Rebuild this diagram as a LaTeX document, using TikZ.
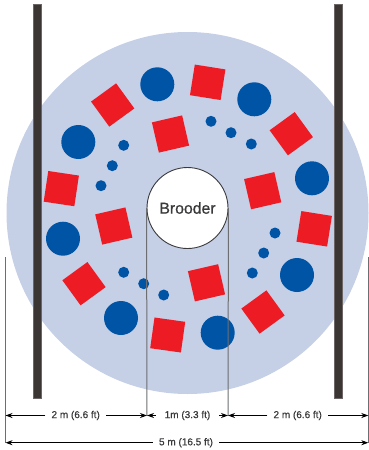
\documentclass[tikz,border=0pt]{standalone}
\usepackage{xcolor}
\usepackage{fontspec}
\setmainfont{Liberation Sans}
\newfontfamily\medfont[FakeBold=0.7]{Liberation Sans}
\usetikzlibrary{positioning, arrows.meta, calc}
\definecolor{yard-blue}{HTML}{C5CFE6}
\definecolor{drinker-blue}{HTML}{0054A6}
\definecolor{feeder-red}{HTML}{ED1C24}
\definecolor{post-dark}{HTML}{3B3533}
\definecolor{line-gray}{HTML}{6D6E71}
\definecolor{text-dark}{HTML}{3A3A3C}

\begin{document}
\begin{tikzpicture}[
    x=1pt, y=-1pt,
    yard/.style={circle, inner sep=0pt, minimum size=362pt, fill=yard-blue},
    feeder/.style={rectangle, inner sep=0pt, minimum size=31pt, fill=feeder-red},
    drinker/.style={circle, inner sep=0pt, minimum size=34pt, fill=drinker-blue},
    nipple/.style={circle, inner sep=0pt, minimum size=11pt, fill=drinker-blue},
    brooder/.style={circle, inner sep=0pt, minimum size=81pt, fill=white, draw=text-dark, line width=0.9pt,
                    font=\medfont\fontsize{15.8}{18}\selectfont, text=text-dark},
    post/.style={fill=post-dark, draw=post-dark!75!white, line width=0.5pt},
    ext/.style={line-gray, line width=1pt},
    dim/.style={-{Stealth[length=7pt, width=5pt]}, black, line width=0.8pt},
    lbl/.style={inner sep=6pt, font=\medfont\fontsize{10}{12}\selectfont, text=text-dark},
]
    \useasboundingbox (0, 0) rectangle (369, 450);

    % Yard
    \node[yard] (yard) at (187.5, 213) {};

    % Posts
    \draw[post] (33.3, 4) rectangle (41, 398);
    \draw[post] (334.3, 4) rectangle (342, 398);

    % Feeders
    \foreach \name/\x/\y/\ang in {
        a/112.7/105/36, b/170.5/134/13, c/61.3/188.6/-8.5, d/113.8/226/13,
        e/84/283.7/36, f/167.7/335/-8, g/207.7/82.3/-9, h/291.3/133.7/36,
        i/262.7/190.7/13, j/314.2/228.8/-9, k/263/312/36, l/206.5/282.8/13}
        \node[feeder, rotate=\ang] (feeder-\name) at (\x, \y) {};

    % Drinkers
    \foreach \name/\x/\y in {
        a/157.3/84.3, b/78.3/142, c/63/238.7, d/121/318,
        e/254.3/99.3, f/312/178.3, g/297/275, h/217.7/332.7}
        \node[drinker] (drinker-\name) at (\x, \y) {};

    % Nipples
    \foreach \name/\x/\y in {
        a/123.7/145.3, b/112.3/165.7, c/101/185.7,
        d/211/121.3, e/231/132.7, f/251.3/144,
        g/123.7/272.3, h/143.7/283.7, i/163.7/295,
        j/275/233, k/263.7/253, l/252.3/273}
        \node[nipple] (nipple-\name) at (\x, \y) {};

    % Brooder
    \node[brooder] (brooder) at (187.5, 208) {Brooder};

    % Extension lines
    \coordinate (edgeL) at (5.5, 257);
    \coordinate (edgeR) at (368.3, 257);
    \coordinate (footL) at (5.5, 442.7);
    \coordinate (footR) at (368.3, 442.7);
    \coordinate (footA) at (147, 415.5);
    \coordinate (footB) at (228, 415.5);
    \coordinate (midL) at (5.5, 415.5);
    \coordinate (midR) at (368.3, 415.5);
    \draw[ext] (brooder.west) -- (footA);
    \draw[ext] (brooder.east) -- (footB);
    \draw[ext] (edgeL) -- (footL);
    \draw[ext] (edgeR) -- (footR);

    % Dimensions
    \node[lbl] (left)  at (75.7, 415.5) {2 m (6.6 ft)};
    \node[lbl, inner sep=9pt] (mid) at (187.5, 415.5) {1m (3.3 ft)};
    \node[lbl] (right) at (297.7, 415.5) {2 m (6.6 ft)};
    \node[lbl] (total) at (186, 442.7) {5 m (16.5 ft)};
    \draw[dim] (left) -- (midL);
    \draw[dim] (left) -- (footA);
    \draw[dim] (mid) -- (footA);
    \draw[dim] (mid) -- (footB);
    \draw[dim] (right) -- (footB);
    \draw[dim] (right) -- (midR);
    \draw[dim] (total) -- (footL);
    \draw[dim] (total) -- (footR);
\end{tikzpicture}
\end{document}
